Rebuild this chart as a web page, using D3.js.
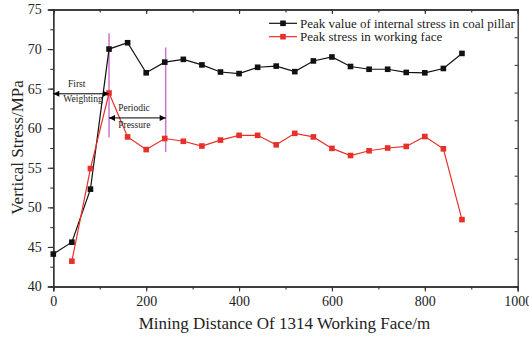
<!DOCTYPE html>
<html><head><meta charset="utf-8">
<script src="https://cdn.jsdelivr.net/npm/d3@7"></script>
<style>body{margin:0;background:#fff}svg{display:block}svg text{font-family:'Liberation Serif','Times New Roman',Tinos,serif !important;}</style>
</head><body><svg id="c" width="529" height="338"></svg>
<script>
const distances = [0,40,80,120,160,200,240,280,320,360,400,440,480,520,560,600,640,680,720,760,800,840,880];
const pillarStress = [44.1,45.6,52.3,70.0,70.8,67.0,68.35,68.7,68.0,67.1,66.9,67.7,67.85,67.15,68.5,69.0,67.8,67.45,67.45,67.05,67.0,67.55,69.45];
const faceDistances = [40,80,120,160,200,240,280,320,360,400,440,480,520,560,600,640,680,720,760,800,840,880];
const faceStress = [43.2,54.9,64.45,58.9,57.3,58.7,58.35,57.75,58.5,59.1,59.1,57.9,59.35,58.9,57.45,56.55,57.15,57.5,57.7,58.95,57.4,48.45];
const seriesNames = ["Peak value of internal stress in coal pillar","Peak stress in working face"];
const xTicks = [0,200,400,600,800,1000];
const yTicks = [40,45,50,55,60,65,70,75];
const markerLines = [{x:120,y0:58.85,y1:72.0},{x:242,y0:57.0,y1:70.2}];
const arrows = [{x0:0,x1:120,y:64.35,t1:"First",t2:"Weighting"},{x0:120,x1:242,y:61.3,t1:"Periodic",t2:"Pressure"}];

const W=529,H=338,m={l:53.3,r:11.3,t:9.5,b:51.5};
const svg=d3.select("#c");
const font="'Liberation Serif','Times New Roman',serif";
const x=d3.scaleLinear().domain([0,1000]).range([m.l,W-m.r]);
const y=d3.scaleLinear().domain([40,75]).range([H-m.b,m.t]);
const axisCol="#333";

const defs=svg.append("defs");
defs.append("marker").attr("id","ah").attr("viewBox","0 0 10 10").attr("refX",10).attr("refY",5)
 .attr("markerWidth",7).attr("markerHeight",6).attr("markerUnits","userSpaceOnUse").attr("orient","auto-start-reverse")
 .append("path").attr("d","M0,0L10,5L0,10Z").attr("fill","#000");

function styleAxis(g){g.attr("font-family",null);g.select(".domain").attr("stroke",axisCol).attr("stroke-width",1.3);g.selectAll(".tick line").attr("stroke",axisCol).attr("stroke-width",1.1);g.selectAll("text").style("font-family",font).style("font-size","14px").attr("fill","#222");}
const xMinor=d3.range(0,1001,100);
const yMinor=d3.range(40,75.1,2.5);
svg.append("g").attr("transform",`translate(0,${H-m.b})`).call(d3.axisBottom(x).tickValues(xMinor).tickSize(3).tickFormat("")).call(styleAxis);
svg.append("g").attr("transform",`translate(0,${H-m.b})`).call(d3.axisBottom(x).tickValues(xTicks).tickSize(5).tickPadding(5).tickFormat(d3.format("d"))).call(styleAxis);
svg.append("g").attr("transform",`translate(0,${m.t})`).call(d3.axisTop(x).tickValues(xMinor).tickSize(-3).tickFormat("")).call(styleAxis);
svg.append("g").attr("transform",`translate(0,${m.t})`).call(d3.axisTop(x).tickValues(xTicks).tickSize(-4.5).tickFormat("")).call(styleAxis);
svg.append("g").attr("transform",`translate(${m.l},0)`).call(d3.axisLeft(y).tickValues(yMinor).tickSize(3).tickFormat("")).call(styleAxis);
svg.append("g").attr("transform",`translate(${m.l},0)`).call(d3.axisLeft(y).tickValues(yTicks).tickSize(5.5).tickPadding(6).tickFormat(d3.format("d"))).call(styleAxis);
const yR=d3.scaleLinear().domain([0,10]).range([H-m.b,m.t]);
svg.append("g").attr("transform",`translate(${W-m.r},0)`).call(d3.axisRight(yR).ticks(10).tickSize(-3).tickFormat("")).call(styleAxis);

function txt(xp,yp,s,size,anchor){return svg.append("text").attr("x",xp).attr("y",yp).attr("text-anchor",anchor||"middle").style("font-family",font).style("font-size",size+"px").attr("fill","#222").text(s);}
txt(284.5,329,"Mining Distance Of 1314 Working Face/m",17);
svg.append("text").attr("transform",`translate(22.5,147.5) rotate(-90)`).attr("text-anchor","middle").style("font-family",font).style("font-size","17px").attr("fill","#222").text("Vertical Stress/MPa");

svg.selectAll(".ml").data(markerLines).enter().append("line").attr("x1",d=>x(d.x)).attr("x2",d=>x(d.x)).attr("y1",d=>y(d.y0)).attr("y2",d=>y(d.y1)).attr("stroke","#cc77cc").attr("stroke-width",1.5);

const line=d3.line().x(d=>x(d[0])).y(d=>y(d[1]));
const s1=distances.map((d,i)=>[d,pillarStress[i]]);
const s2=faceDistances.map((d,i)=>[d,faceStress[i]]);
const cols=["#111","#e8302a"];
[s1,s2].forEach((s,k)=>{
  svg.append("path").datum(s).attr("d",line).attr("fill","none").attr("stroke",cols[k]).attr("stroke-width",1.2);
});
[s1,s2].forEach((s,k)=>{
  svg.selectAll(".m"+k).data(s).enter().append("rect").attr("x",d=>x(d[0])-2.8).attr("y",d=>y(d[1])-2.8).attr("width",5.6).attr("height",5.6).attr("fill",cols[k]);
});

arrows.forEach(a=>{
  svg.append("line").attr("x1",x(a.x0)).attr("x2",x(a.x1)).attr("y1",y(a.y)).attr("y2",y(a.y)).attr("stroke","#000").attr("stroke-width",1).attr("marker-start","url(#ah)").attr("marker-end","url(#ah)");
});
txt(76.7,y(arrows[0].y)-6.5,arrows[0].t1,9.5);
txt(83,y(arrows[0].y)+8,arrows[0].t2,9.5);
txt(134,y(arrows[1].y)-7.2,arrows[1].t1,9.5);
txt(134.3,y(arrows[1].y)+10.2,arrows[1].t2,9.5);

seriesNames.forEach((n,k)=>{
  const yy=23.3+k*13.4;
  svg.append("line").attr("x1",269).attr("x2",297).attr("y1",yy).attr("y2",yy).attr("stroke",cols[k]).attr("stroke-width",1.2);
  svg.append("rect").attr("x",283-2.8).attr("y",yy-2.8).attr("width",5.6).attr("height",5.6).attr("fill",cols[k]);
  txt(300,yy+4.2,n,13,"start");
});
</script></body></html>
